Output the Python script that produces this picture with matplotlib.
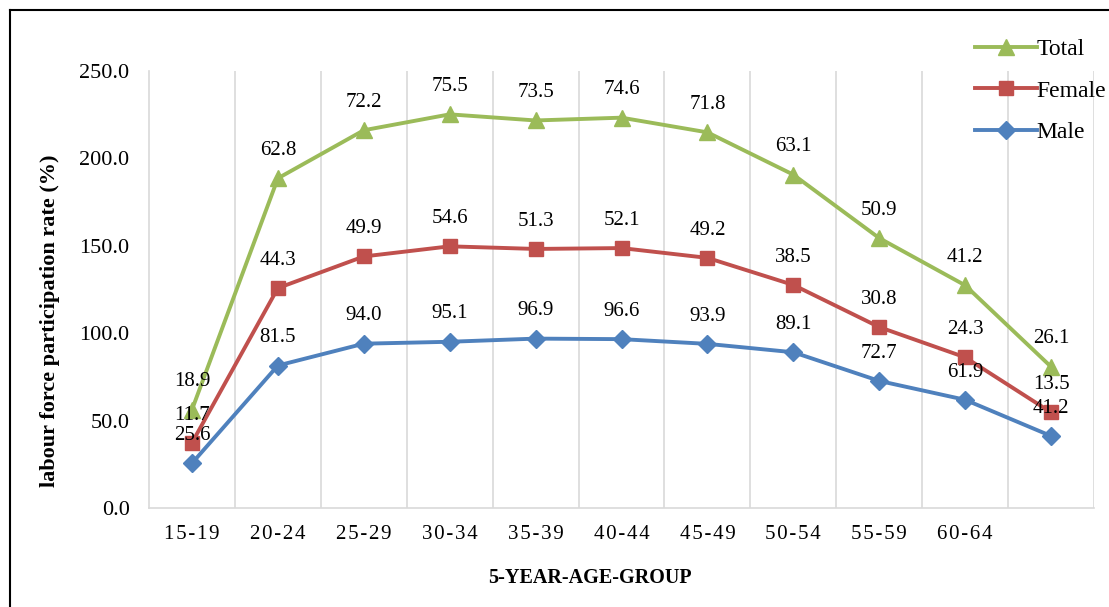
import matplotlib

matplotlib.use("Agg")
import matplotlib.pyplot as plt
from matplotlib.lines import Line2D
import numpy as np

plt.rcParams["font.family"] = ["Liberation Serif", "DejaVu Serif"]

# ---------------------------------------------------------------- data
age_groups = ["15-19", "20-24", "25-29", "30-34", "35-39", "40-44",
              "45-49", "50-54", "55-59", "60-64", ""]
male = [25.6, 81.5, 94.0, 95.1, 96.9, 96.6, 93.9, 89.1, 72.7, 61.9, 41.2]
female = [11.7, 44.3, 49.9, 54.6, 51.3, 52.1, 49.2, 38.5, 30.8, 24.3, 13.5]
total = [18.9, 62.8, 72.2, 75.5, 73.5, 74.6, 71.8, 63.1, 50.9, 41.2, 26.1]

GREEN, RED, BLUE = "#9BBB59", "#C0504D", "#4F81BD"

# stacked lines (cumulative), labels show the series' own values
x = np.arange(len(age_groups))
cum_male = np.array(male)
cum_female = cum_male + np.array(female)
cum_total = cum_female + np.array(total)

fig = plt.figure(figsize=(11.09, 6.07), dpi=100)
ax = fig.add_axes([149 / 1109, 1 - 508 / 607, (1094 - 149) / 1109, (508 - 71) / 607])

series = [
    ("Male", cum_male, male, BLUE, "D", 9),
    ("Female", cum_female, female, RED, "s", 10.5),
    ("Total", cum_total, total, GREEN, "^", 11.5),
]
for name, ys, vals, col, mk, ms in series:
    ax.plot(x, ys, color=col, lw=2.8, marker=mk, ms=ms, zorder=3)
    for xi, yi, v in zip(x, ys, vals):
        ax.annotate(f"{v:.1f}", (xi, yi), xytext=(0, 20), textcoords="offset points",
                    ha="center", va="center", fontsize=15, zorder=4)

ax.set_xlim(-0.5, len(age_groups) - 0.5)
ax.set_ylim(0, 250)
ax.set_yticks(np.arange(0, 251, 50))
ax.set_yticklabels([f"{v:.1f}" for v in np.arange(0, 251, 50)], fontsize=16)
ax.set_xticks(x)
ax.set_xticklabels(["\u200a".join(g) for g in age_groups], fontsize=15)
ax.set_xticks(np.arange(0.5, len(age_groups), 1), minor=True)
ax.grid(True, which="minor", axis="x", color="#d9d9d9", lw=1.2)
ax.tick_params(axis="both", which="both", length=0)
ax.tick_params(axis="y", pad=14)
ax.tick_params(axis="x", pad=12)
for s in ("top", "right"):
    ax.spines[s].set_visible(False)
for s in ("left", "bottom"):
    ax.spines[s].set_color("#d9d9d9")
    ax.spines[s].set_linewidth(1.2)

fig.text(50 / 1109, 1 - 321 / 607, "labour force participation rate (%)", rotation=90,
         ha="center", va="center", fontsize=16, fontweight="bold")
fig.text(590 / 1109, 1 - 578 / 607, "5-YEAR-AGE-GROUP", ha="center", va="center",
         fontsize=14.5, fontweight="bold")

handles = [Line2D([], [], color=c, lw=2.8, marker=m, ms=ms) for _, _, _, c, m, ms in series[::-1]]
fig.legend(handles, ["Total", "Female", "Male"], loc="upper left",
           bbox_to_anchor=(966 / 1109, 1 - 29 / 607), frameon=False, fontsize=17,
           handlelength=2.6, handletextpad=0.0, labelspacing=0.85, borderaxespad=0)

# outer frame (right and bottom edges run off the image)
fig.add_artist(Line2D([10 / 1109, 10 / 1109], [0, 1 - 10 / 607], color="black", lw=1.5,
                      transform=fig.transFigure))
fig.add_artist(Line2D([10 / 1109, 1], [1 - 10 / 607, 1 - 10 / 607], color="black", lw=1.5,
                      transform=fig.transFigure))

fig.savefig("out.png", dpi=100)
